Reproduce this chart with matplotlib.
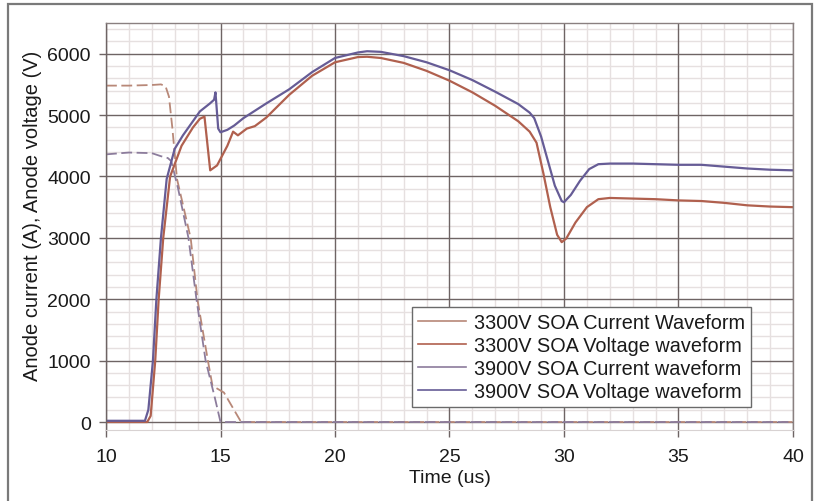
import matplotlib
matplotlib.use("Agg")
import matplotlib.pyplot as plt
from matplotlib.lines import Line2D
from matplotlib.patches import Rectangle
from matplotlib.ticker import MultipleLocator

plt.rcParams['font.family'] = ['Liberation Sans', 'DejaVu Sans']

# 3300 V SOA test: anode current (dashed) and anode voltage (solid)
t_i3300 = [10, 11, 12, 12.4, 12.6, 12.75, 12.9, 13.1, 13.7, 14.0, 14.45, 14.65, 15.15, 15.9, 40]
i3300 = [5480, 5480, 5490, 5500, 5470, 5300, 4780, 3960, 2990, 1980, 1000, 590, 480, 0, 0]

t_v3300 = [10, 11.8, 11.95, 12.15, 12.3, 12.5, 12.8, 13.3, 13.8, 14.1, 14.3, 14.55, 14.85, 15.3,
           15.55, 15.76, 16.15, 16.5, 17, 18, 19, 20, 21, 21.4, 22, 23, 24, 25, 26, 27, 28,
           28.5, 28.8, 29.1, 29.4, 29.7, 29.9, 30.1, 30.5, 31, 31.5, 32, 33, 34, 35, 36, 37,
           38, 39, 40]
v3300 = [0, 0, 100, 1000, 2000, 3000, 4000, 4500, 4800, 4940, 4975, 4100, 4180, 4500,
         4730, 4670, 4780, 4820, 4960, 5330, 5640, 5860, 5945, 5950, 5930, 5850, 5720,
         5560, 5370, 5150, 4900, 4730, 4550, 4050, 3500, 3050, 2930, 2990, 3250, 3500,
         3630, 3650, 3640, 3630, 3610, 3600, 3570, 3530, 3510, 3500]

# 3900 V SOA test
t_i3900 = [10, 11, 12, 12.4, 12.7, 12.85, 13.15, 13.6, 13.95, 14.35, 14.75, 15.0, 40]
i3900 = [4360, 4390, 4380, 4330, 4300, 4250, 3800, 3000, 2000, 1000, 400, 0, 0]

t_v3900 = [10, 11.7, 11.85, 12.05, 12.2, 12.4, 12.65, 13.0, 13.36, 14.1, 14.54, 14.72, 14.78,
           14.9, 15.0, 15.3, 15.6, 16, 16.5, 17, 18, 19, 20, 21, 21.4, 22, 23, 24, 25, 26,
           27, 28, 28.5, 28.7, 29.0, 29.3, 29.6, 29.9, 30.0, 30.3, 30.7, 31.1, 31.5, 32, 33,
           34, 35, 36, 37, 38, 39, 40]
v3900 = [20, 20, 200, 1000, 2000, 3000, 3960, 4450, 4670, 5060, 5190, 5250, 5370,
         4780, 4720, 4760, 4830, 4950, 5070, 5190, 5420, 5700, 5930, 6020, 6040, 6030,
         5960, 5860, 5730, 5570, 5380, 5180, 5040, 4950, 4650, 4250, 3850, 3600, 3580,
         3700, 3930, 4120, 4200, 4210, 4210, 4200, 4190, 4190, 4160, 4130, 4110, 4100]

labels = ['3300V SOA Current Waveform', '3300V SOA Voltage waveform',
          '3900V SOA Current waveform', '3900V SOA Voltage waveform']

c_i3300 = '#b88878'
c_v3300 = '#b0604e'
c_i3900 = '#8c7c9c'
c_v3900 = '#665c96'
grid_major = '#6e6464'
grid_minor = '#e6e0e0'

fig = plt.figure(figsize=(8.2, 5.02), dpi=100)
ax = fig.add_axes([106 / 820, 1 - 431 / 502, 687 / 820, 407 / 502])

# outer frame (open at the bottom)
fig.patches.append(Rectangle((8 / 820, -0.05), 804 / 820, 1.05 - 5 / 502,
                             transform=fig.transFigure, fill=False,
                             edgecolor='#7a7a7a', linewidth=1.6))

ax.set_xlim(10, 40)
ax.set_ylim(-130, 6500)
ax.xaxis.set_major_locator(MultipleLocator(5))
ax.xaxis.set_minor_locator(MultipleLocator(1))
ax.yaxis.set_major_locator(MultipleLocator(1000))
ax.yaxis.set_minor_locator(MultipleLocator(200))
ax.set_axisbelow(True)
ax.grid(which='minor', color=grid_minor, linewidth=1.0)

# major grid drawn above the minor one
for xv in ax.get_xticks():
    if 10 <= xv <= 40:
        ax.axvline(xv, color=grid_major, lw=1.0, zorder=0.8)
for yv in ax.get_yticks():
    if 0 <= yv <= 6500:
        ax.axhline(yv, color=grid_major, lw=1.0, zorder=0.8)

dash = (0, (6, 2.5))
ax.plot(t_i3300, i3300, color=c_i3300, lw=1.3, linestyle=dash, zorder=2)
ax.plot(t_i3900, i3900, color=c_i3900, lw=1.3, linestyle=dash, zorder=2)
ax.plot(t_v3300, v3300, color=c_v3300, lw=1.6, zorder=2)
ax.plot(t_v3900, v3900, color=c_v3900, lw=1.6, zorder=2)

for side in ['left', 'right', 'top']:
    ax.spines[side].set_color('#8a8080')
    ax.spines[side].set_linewidth(1.0)
ax.spines['left'].set_color(grid_major)
ax.spines['bottom'].set_color('#d8d2d2')

ax.tick_params(axis='both', which='major', labelsize=14, colors=grid_major,
               labelcolor='#1a1a1a', length=5, width=1.0, direction='out')
ax.tick_params(axis='y', pad=6)
ax.tick_params(axis='x', pad=8)
ax.tick_params(which='minor', length=0)

ax.set_xlabel('Time (us)', fontsize=14, color='#1a1a1a', labelpad=3)
ax.set_ylabel('Anode current (A), Anode voltage (V)', fontsize=14.5, color='#1a1a1a')
ax.yaxis.set_label_coords(-0.093, 0.528)

handles = [Line2D([], [], color=c, lw=1.2) for c in (c_i3300, c_v3300, c_i3900, c_v3900)]
leg = ax.legend(handles, labels, loc='upper left',
                bbox_to_anchor=(412 / 820, 1 - 308 / 502), bbox_transform=fig.transFigure,
                fontsize=14.3, frameon=True, fancybox=False, framealpha=1,
                edgecolor='#6a6a6a', borderaxespad=0, borderpad=0.3,
                handlelength=2.4, handletextpad=0.4, labelspacing=0.2)
leg.get_frame().set_linewidth(1.0)
leg.set_zorder(5)
for txt in leg.get_texts():
    txt.set_color('#1a1a1a')

fig.savefig('out.png', dpi=100, facecolor='white')
